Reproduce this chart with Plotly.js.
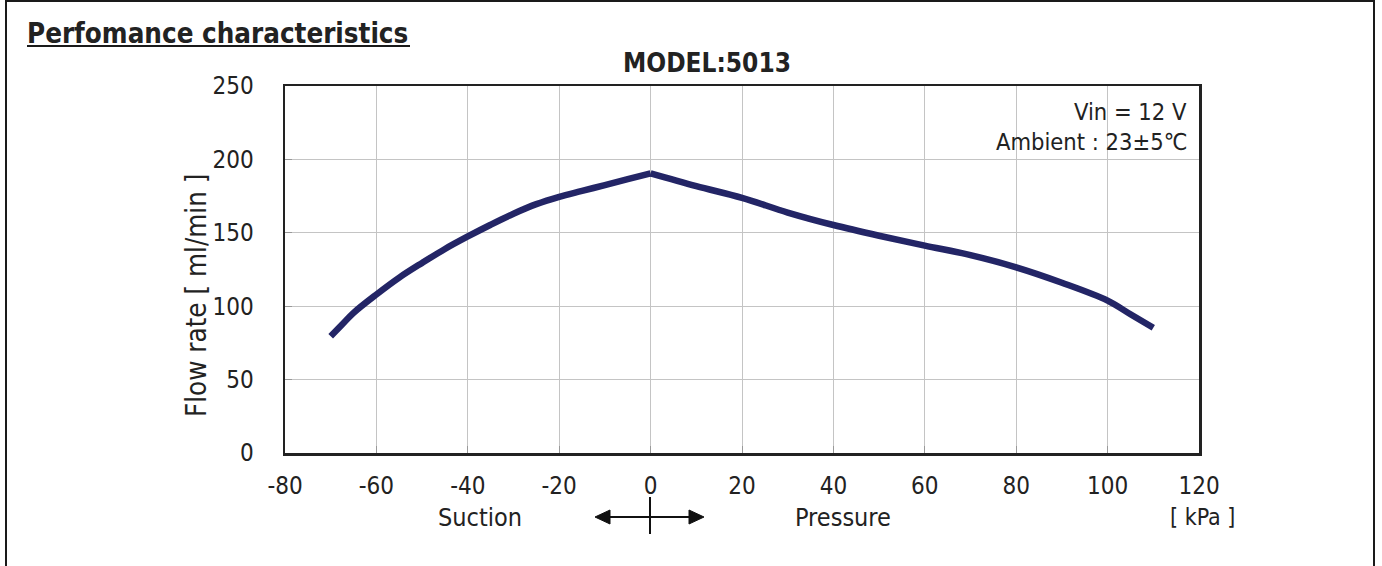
<!DOCTYPE html>
<html>
<head>
<meta charset="utf-8">
<script src="https://cdn.plot.ly/plotly-3.0.1.min.js"></script>
<style>
  html, body { margin: 0; padding: 0; background: #fff; }
  #wrap { position: relative; width: 1382px; height: 566px; overflow: hidden; }
  #chart { width: 1382px; height: 566px; }
  #frame { position: absolute; left: 5px; top: 0px; width: 1370px; height: 580px;
           border: 2px solid #1a1a1a; pointer-events: none; box-sizing: border-box; }
</style>
</head>
<body>
<div id="wrap">
  <div id="chart"></div>
  <div id="frame"></div>
</div>
<script>
// Data
const pressure = [-70, -67.5, -65, -60, -55, -50, -45, -40, -35, -30, -25, -20, -15, -10, -5, 0,
                  10, 20, 30, 40, 50, 60, 70, 80, 90, 100, 105, 110];
const flowRate = [79.5, 87.5, 95.5, 108, 119.5, 129.5, 139, 147.5, 155.5, 163, 169.5, 174.5, 178.5, 182.5, 186.5, 190.5,
                  181.8, 173.8, 163.8, 155.3, 148, 141.3, 134.8, 126.5, 116, 103.8, 94.5, 85.3];
const xTicks = [-80, -60, -40, -20, 0, 20, 40, 60, 80, 100, 120];
const yTicks = [0, 50, 100, 150, 200, 250];

const FONT = '"DejaVu Sans Condensed", "DejaVu Sans", sans-serif';
const TXT = '#222222';

// plot area in pixels: x 285..1199, y 86..453
const L = 285, R = 1199, T = 86, B = 453;
const px = x => (x - L) / (R - L);
const py = y => (B - y) / (B - T);

// split at the peak so the corner stays sharp while each side is smoothed
const peak = pressure.indexOf(0);
const lineStyle = { color: '#232566', width: 6.5, shape: 'spline', smoothing: 1 };
const traces = [
  { x: pressure.slice(0, peak + 1), y: flowRate.slice(0, peak + 1), type: 'scatter', mode: 'lines',
    line: lineStyle, hoverinfo: 'skip' },
  { x: pressure.slice(peak), y: flowRate.slice(peak), type: 'scatter', mode: 'lines',
    line: lineStyle, hoverinfo: 'skip' }
];

const layout = {
  width: 1382, height: 566,
  margin: { l: L, r: 1382 - R, t: T, b: 566 - B, pad: 0 },
  paper_bgcolor: '#ffffff', plot_bgcolor: '#ffffff',
  showlegend: false,
  font: { family: FONT, color: TXT, size: 22 },
  xaxis: {
    range: [-80, 120], tickvals: xTicks, ticktext: xTicks.map(String),
    showgrid: true, gridcolor: '#c4c4c4', gridwidth: 1,
    zeroline: false, showline: true, linecolor: '#222', linewidth: 2.5, mirror: true,
    ticks: 'inside', ticklen: 7, tickcolor: '#999', tickwidth: 1,
    tickfont: { family: FONT, size: 24, color: TXT },
    ticklabelstandoff: 10, fixedrange: true
  },
  yaxis: {
    range: [0, 250], tickvals: yTicks, ticktext: yTicks.map(String),
    showgrid: true, gridcolor: '#c4c4c4', gridwidth: 1,
    zeroline: false, showline: true, linecolor: '#222', linewidth: 2.5, mirror: true,
    ticks: 'inside', ticklen: 7, tickcolor: '#999', tickwidth: 1,
    tickfont: { family: FONT, size: 24, color: TXT },
    ticklabelstandoff: 24,
    fixedrange: true
  },
  shapes: [
    // white box behind condition text
    { type: 'rect', xref: 'paper', yref: 'paper', x0: px(958), x1: px(1187), y0: py(183), y1: py(97),
      fillcolor: '#ffffff', line: { width: 0 }, layer: 'between' },
    // underline of heading
    { type: 'line', xref: 'paper', yref: 'paper', x0: px(27), x1: px(410), y0: py(46), y1: py(46),
      line: { color: '#1a1a1a', width: 2 } },
    // arrow: horizontal line and vertical tick
    { type: 'line', xref: 'paper', yref: 'paper', x0: px(606), x1: px(692), y0: py(517), y1: py(517),
      line: { color: '#111', width: 2 } },
    { type: 'line', xref: 'paper', yref: 'paper', x0: px(650), x1: px(650), y0: py(497), y1: py(534),
      line: { color: '#111', width: 2 } },
    // arrow heads
    { type: 'path', xref: 'paper', yref: 'paper',
      path: `M ${px(595)} ${py(517)} L ${px(610)} ${py(510)} L ${px(610)} ${py(524)} Z`,
      fillcolor: '#111', line: { color: '#111', width: 1 } },
    { type: 'path', xref: 'paper', yref: 'paper',
      path: `M ${px(704)} ${py(517)} L ${px(689)} ${py(510)} L ${px(689)} ${py(524)} Z`,
      fillcolor: '#111', line: { color: '#111', width: 1 } }
  ],
  annotations: [
    { text: '<b>Perfomance characteristics</b>', xref: 'paper', yref: 'paper',
      x: px(25), y: py(33), xanchor: 'left', yanchor: 'middle', showarrow: false,
      font: { family: FONT, size: 27.5, color: TXT } },
    { text: '<b>MODEL:5013</b>', xref: 'paper', yref: 'paper',
      x: px(707), y: py(63), xanchor: 'center', yanchor: 'middle', showarrow: false,
      font: { family: FONT, size: 26, color: TXT } },
    { text: 'Flow rate [ ml/min ]', xref: 'paper', yref: 'paper', textangle: -90,
      x: px(196), y: py(296), xanchor: 'center', yanchor: 'middle', showarrow: false,
      font: { family: FONT, size: 27.5, color: TXT } },
    { text: 'Vin = 12 V', xref: 'paper', yref: 'paper',
      x: px(1189), y: py(112), xanchor: 'right', yanchor: 'middle', showarrow: false,
      font: { family: FONT, size: 23.5, color: TXT } },
    { text: 'Ambient : 23±5℃', xref: 'paper', yref: 'paper',
      x: px(1189), y: py(142), xanchor: 'right', yanchor: 'middle', showarrow: false,
      font: { family: FONT, size: 23.5, color: TXT } },
    { text: 'Suction', xref: 'paper', yref: 'paper',
      x: px(480), y: py(517), xanchor: 'center', yanchor: 'middle', showarrow: false,
      font: { family: FONT, size: 25, color: TXT } },
    { text: 'Pressure', xref: 'paper', yref: 'paper',
      x: px(843), y: py(517), xanchor: 'center', yanchor: 'middle', showarrow: false,
      font: { family: FONT, size: 25, color: TXT } },
    { text: '[ kPa ]', xref: 'paper', yref: 'paper',
      x: px(1202), y: py(517), xanchor: 'center', yanchor: 'middle', showarrow: false,
      font: { family: FONT, size: 23, color: TXT } }
  ]
};

Plotly.newPlot('chart', traces, layout, { displayModeBar: false, staticPlot: true });
</script>
</body>
</html>
